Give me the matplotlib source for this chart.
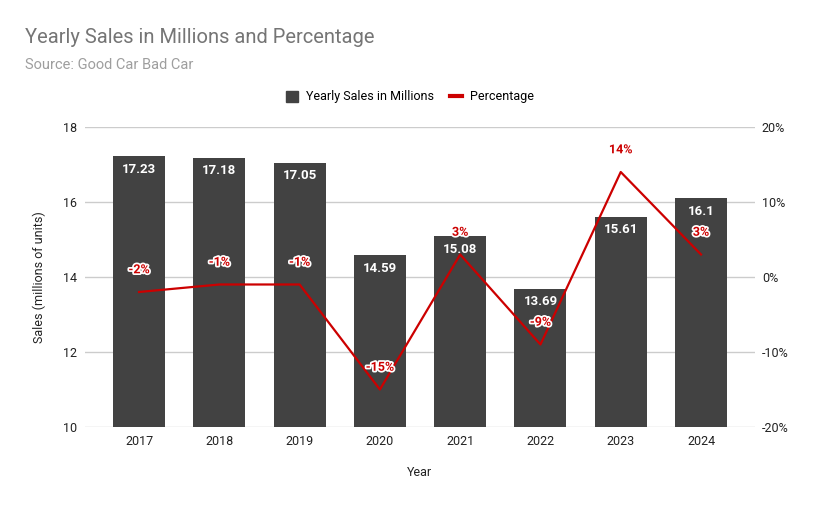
import matplotlib.pyplot as plt
import matplotlib.patheffects as pe
from matplotlib.patches import Patch
from matplotlib.lines import Line2D

plt.rcParams['font.family'] = ['Roboto', 'DejaVu Sans']

# data
years = ["2017", "2018", "2019", "2020", "2021", "2022", "2023", "2024"]
sales = [17.23, 17.18, 17.05, 14.59, 15.08, 13.69, 15.61, 16.1]
sales_labels = ["17.23", "17.18", "17.05", "14.59", "15.08", "13.69", "15.61", "16.1"]
pct = [-2, -1, -1, -15, 3, -9, 14, 3]

bar_color = "#424242"
line_color = "#cc0000"

fig = plt.figure(figsize=(8.16, 5.05), dpi=100)
ax = fig.add_axes([0.1042, 0.1545, 0.821, 0.594])
x = list(range(len(years)))

ax.bar(x, [s - 10 for s in sales], bottom=10, width=0.648, color=bar_color, zorder=2)
ax.set_ylim(10, 18)
ax.set_xlim(-0.673, len(years) - 1 + 0.672)
ax.set_yticks([10, 12, 14, 16, 18])
ax.set_xticks(x)
ax.set_xticklabels(years)
ax.grid(axis="y", color="#cccccc", linewidth=1, zorder=0)
for s in ax.spines.values():
    s.set_visible(False)
ax.tick_params(length=0, labelsize=9, colors="#222222", pad=6)
ax.set_ylabel("Sales (millions of units)", fontsize=9, color="#222222", labelpad=12)
ax.set_xlabel("Year", fontsize=9, color="#222222", labelpad=13)

for xi, s, lab in zip(x, sales, sales_labels):
    ax.annotate(lab, (xi, s), xytext=(0, -9.5), textcoords="offset points",
                ha="center", va="center", color="white", fontsize=9.5,
                fontweight="bold", zorder=4)

ax2 = ax.twinx()
ax2.plot(x, pct, color=line_color, linewidth=1.6, zorder=3)
ax2.set_ylim(-20, 20)
ax2.set_yticks([-20, -10, 0, 10, 20])
ax2.set_yticklabels(["-20%", "-10%", "0%", "10%", "20%"])
for s in ax2.spines.values():
    s.set_visible(False)
ax2.tick_params(length=0, labelsize=9, colors="#222222", pad=5)

for xi, p in zip(x, pct):
    ax2.annotate(f"{p}%", (xi, p), xytext=(0, 16), textcoords="offset points",
                 ha="center", va="center", color=line_color, fontsize=9,
                 fontweight="bold", zorder=5,
                 path_effects=[pe.withStroke(linewidth=2.5, foreground="white")])

fig.text(0.031, 0.926, "Yearly Sales in Millions and Percentage", fontsize=14.5,
         color="#757575", va="center")
fig.text(0.031, 0.871, "Source: Good Car Bad Car", fontsize=10.5,
         color="#9e9e9e", va="center")

handles = [Patch(color=bar_color), Line2D([0], [0], color=line_color, linewidth=3)]
fig.legend(handles, ["Yearly Sales in Millions", "Percentage"], loc="center",
           bbox_to_anchor=(0.502, 0.808), ncol=2, frameon=False, fontsize=9,
           handlelength=1.0, handleheight=1.0, columnspacing=1.3, handletextpad=0.6)

fig.savefig("out.png", dpi=100)
